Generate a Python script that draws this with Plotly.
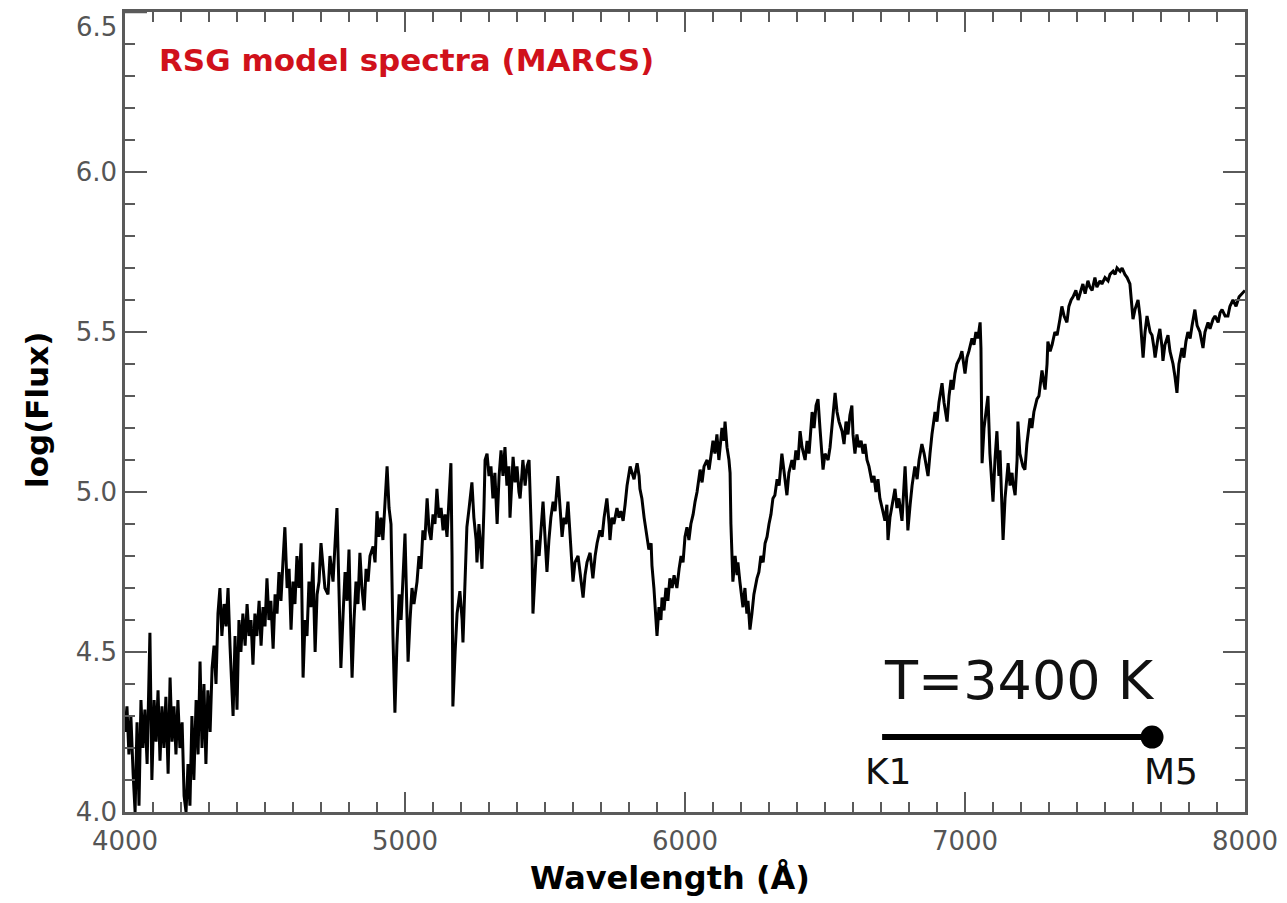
import plotly.graph_objects as go

# ---- spectrum (wavelength in Angstrom, log flux) ----
wavelength = [
4000,4007,4014,4021,4029,4036,4043,4050,4057,4064,4071,4079,4089,4096,4104,4111,4118,4125,4132,4139,
4146,4154,4161,4168,4175,4182,4189,4196,4204,4211,4218,4225,4232,4239,4246,4254,4261,4268,4275,4282,
4289,4296,4304,4311,4318,4325,4332,4339,4346,4354,4361,4368,4375,4386,4393,4400,4407,4414,4421,4429,
4436,4443,4450,4457,4464,4471,4479,4486,4493,4500,4507,4514,4521,4529,4536,4543,4550,4557,4564,4571,
4579,4586,4593,4600,4607,4614,4621,4629,4636,4643,4650,4657,4664,4671,4679,4686,4693,4700,4707,4714,
4725,4732,4743,4750,4757,4764,4771,4779,4786,4793,4800,4807,4811,4818,4825,4832,4839,4846,4854,4861,
4868,4875,4886,4893,4900,4907,4914,4921,4929,4936,4943,4950,4957,4964,4971,4979,4986,4993,5000,5007,
5011,5018,5025,5032,5043,5050,5057,5064,5071,5079,5086,5093,5100,5107,5114,5121,5129,5136,5143,5150,
5157,5164,5168,5171,5179,5186,5196,5204,5207,5214,5221,5229,5236,5239,5246,5254,5257,5264,5271,5275,
5282,5286,5293,5300,5307,5314,5321,5329,5336,5343,5350,5357,5364,5371,5375,5382,5386,5393,5400,5407,
5411,5418,5421,5429,5436,5443,5446,5454,5457,5464,5471,5479,5486,5493,5500,5507,5514,5521,5529,5536,
5546,5554,5561,5568,5575,5582,5589,5600,5607,5618,5625,5636,5643,5650,5661,5668,5671,5679,5686,5696,
5704,5711,5721,5729,5732,5739,5746,5757,5764,5771,5779,5786,5793,5804,5811,5818,5829,5836,5839,5846,
5854,5864,5871,5879,5882,5889,5896,5900,5907,5914,5918,5925,5932,5939,5946,5954,5961,5971,5979,5986,
5993,6000,6007,6014,6021,6029,6036,6043,6054,6061,6068,6079,6086,6093,6100,6107,6114,6121,6125,6132,
6139,6143,6150,6157,6161,6164,6171,6179,6186,6189,6196,6204,6207,6214,6221,6225,6232,6239,6246,6257,
6264,6271,6279,6286,6293,6300,6307,6314,6321,6329,6336,6346,6354,6364,6371,6382,6389,6396,6404,6411,
6418,6429,6436,6443,6454,6461,6468,6475,6482,6489,6493,6500,6511,6518,6525,6536,6543,6550,6561,6568,
6575,6582,6589,6596,6600,6607,6614,6621,6629,6636,6643,6650,6657,6668,6675,6682,6689,6696,6704,6714,
6721,6725,6732,6739,6750,6757,6764,6775,6782,6786,6793,6796,6804,6811,6821,6829,6836,6846,6854,6861,
6868,6875,6882,6893,6900,6907,6918,6925,6932,6936,6943,6950,6957,6964,6971,6982,6989,6996,7000,7007,
7014,7025,7032,7039,7046,7054,7057,7061,7068,7075,7082,7089,7096,7100,7107,7114,7121,7125,7132,7136,
7143,7154,7161,7168,7171,7179,7186,7189,7196,7207,7214,7221,7232,7239,7246,7257,7264,7275,7282,7286,
7293,7296,7304,7311,7321,7329,7339,7346,7354,7364,7371,7379,7386,7396,7404,7411,7421,7429,7439,7446,
7454,7464,7471,7482,7489,7500,7511,7518,7529,7536,7543,7554,7561,7571,7579,7589,7596,7600,7607,7618,
7625,7636,7643,7650,7661,7668,7675,7679,7689,7696,7704,7707,7714,7725,7732,7743,7750,7757,7764,7775,
7782,7789,7796,7804,7811,7821,7829,7839,7850,7857,7868,7875,7886,7893,7904,7911,7918,7929,7939,7946,
7957,7968,7979,7989,8000,
]

log_flux = [
4.25,4.33,4.18,4.30,4.12,4.00,4.28,4.02,4.35,4.20,4.32,4.15,4.56,4.10,4.35,4.22,4.38,4.16,4.33,4.20,
4.36,4.12,4.42,4.22,4.33,4.18,4.35,4.20,4.28,4.05,4.00,4.15,4.02,4.30,4.10,4.35,4.18,4.47,4.20,4.40,
4.15,4.38,4.25,4.45,4.52,4.40,4.62,4.70,4.55,4.65,4.58,4.70,4.52,4.30,4.55,4.32,4.60,4.50,4.62,4.52,
4.65,4.55,4.60,4.46,4.62,4.55,4.66,4.52,4.64,4.58,4.73,4.60,4.66,4.51,4.68,4.62,4.75,4.66,4.78,4.89,
4.70,4.76,4.57,4.72,4.65,4.80,4.70,4.84,4.42,4.60,4.55,4.72,4.64,4.78,4.50,4.68,4.72,4.84,4.77,4.70,
4.68,4.80,4.72,4.86,4.95,4.70,4.45,4.62,4.75,4.66,4.82,4.55,4.42,4.60,4.72,4.65,4.81,4.70,4.63,4.76,
4.72,4.80,4.83,4.78,4.94,4.86,4.92,4.85,4.98,5.08,4.95,4.90,4.55,4.31,4.52,4.68,4.60,4.75,4.87,4.62,
4.47,4.60,4.70,4.65,4.72,4.80,4.76,4.88,4.85,4.98,4.88,4.85,4.93,4.90,5.01,4.92,4.95,4.88,4.93,4.86,
4.98,5.09,4.80,4.33,4.50,4.62,4.69,4.60,4.53,4.75,4.89,4.95,5.00,5.03,4.92,4.85,4.78,4.90,4.82,4.76,
4.95,5.10,5.12,5.05,5.08,4.98,5.06,4.90,5.05,5.13,5.05,5.14,5.02,5.08,4.92,5.05,5.11,5.03,5.08,5.00,
4.98,5.06,5.10,5.02,5.08,5.10,5.02,4.80,4.62,4.75,4.85,4.80,4.89,4.97,4.86,4.75,4.85,4.92,4.97,4.94,
5.05,4.95,4.86,4.92,4.90,4.97,4.88,4.72,4.78,4.80,4.75,4.67,4.74,4.78,4.81,4.76,4.73,4.80,4.84,4.88,
4.86,4.92,4.98,4.90,4.85,4.92,4.90,4.95,4.92,4.94,4.91,4.96,5.02,5.08,5.06,5.04,5.09,5.05,5.01,4.98,
4.92,4.86,4.82,4.84,4.77,4.70,4.62,4.55,4.64,4.60,4.67,4.63,4.70,4.66,4.73,4.70,4.74,4.70,4.76,4.80,
4.78,4.86,4.89,4.85,4.90,4.93,4.97,5.00,5.07,5.03,5.08,5.10,5.07,5.12,5.16,5.12,5.18,5.10,5.14,5.20,
5.16,5.22,5.14,5.10,5.06,4.90,4.72,4.80,4.74,4.78,4.72,4.66,4.64,4.70,4.62,4.66,4.57,4.62,4.68,4.73,
4.75,4.80,4.78,4.84,4.86,4.90,4.93,4.98,4.99,5.04,5.02,5.12,5.06,4.99,5.06,5.10,5.07,5.13,5.10,5.19,
5.14,5.10,5.16,5.12,5.25,5.20,5.27,5.29,5.20,5.12,5.07,5.12,5.10,5.14,5.20,5.31,5.25,5.22,5.19,5.15,
5.22,5.18,5.24,5.27,5.18,5.12,5.18,5.14,5.16,5.12,5.15,5.10,5.08,5.03,5.05,5.00,5.04,4.98,4.95,4.91,
4.96,4.85,4.92,4.96,5.01,4.95,4.98,4.91,5.00,5.08,4.95,4.88,4.96,5.02,5.08,5.04,5.10,5.15,5.12,5.08,
5.05,5.12,5.18,5.25,5.22,5.28,5.34,5.28,5.24,5.22,5.30,5.35,5.32,5.37,5.40,5.42,5.44,5.40,5.37,5.42,
5.44,5.48,5.46,5.50,5.48,5.53,5.45,5.09,5.20,5.25,5.30,5.12,5.02,4.97,5.10,5.19,5.05,5.13,4.95,4.85,
4.98,5.09,5.02,5.06,5.03,4.99,5.10,5.22,5.12,5.08,5.07,5.15,5.23,5.20,5.25,5.29,5.30,5.38,5.34,5.32,
5.40,5.47,5.44,5.46,5.50,5.49,5.54,5.58,5.55,5.53,5.58,5.60,5.61,5.63,5.60,5.62,5.65,5.62,5.66,5.64,
5.63,5.67,5.64,5.66,5.65,5.67,5.66,5.68,5.69,5.68,5.70,5.69,5.70,5.68,5.67,5.65,5.58,5.54,5.57,5.60,
5.55,5.42,5.50,5.55,5.50,5.49,5.45,5.42,5.48,5.51,5.45,5.41,5.46,5.49,5.44,5.40,5.36,5.31,5.40,5.45,
5.42,5.47,5.50,5.48,5.52,5.57,5.52,5.50,5.45,5.50,5.53,5.51,5.54,5.55,5.53,5.56,5.57,5.55,5.55,5.58,
5.60,5.58,5.61,5.62,5.63,
]

# y tick labels (the top one is nudged down inside the page as in the original)
y_tick_values = [4.0, 4.5, 5.0, 5.5, 6.0]
y_top_label = "6.5"

# ---- temperature scale indicator ----
temp_label = "T=3400 K"
scale_start_label = "K1"
scale_end_label = "M5"
scale_x = [6704, 7668]      # wavelength span of the K1..M5 bar
scale_y = [4.234, 4.234]
temp_label_pos = (7196, 4.41)
k1_pos = (6725, 4.128)
m5_pos = (7736, 4.128)

title_text = "RSG model spectra (MARCS)"
x_title = "Wavelength (Å)"
y_title = "log(Flux)"

FONT = "DejaVu Sans, Verdana, sans-serif"
AXIS_COLOR = "#5a5a5a"
TICK_FONT = dict(family=FONT, size=26, color="#555555")

fig = go.Figure()
fig.add_trace(go.Scatter(
    x=wavelength, y=log_flux, mode="lines",
    line=dict(color="#000000", width=3), hoverinfo="skip", showlegend=False,
))
fig.add_trace(go.Scatter(
    x=scale_x, y=scale_y, mode="lines",
    line=dict(color="#000000", width=6), showlegend=False, hoverinfo="skip",
))
fig.add_trace(go.Scatter(
    x=[scale_x[1]], y=[scale_y[1]], mode="markers",
    marker=dict(color="#000000", size=23), showlegend=False, hoverinfo="skip",
))

axis_common = dict(
    showline=True, linecolor=AXIS_COLOR, linewidth=2.5, mirror="ticks",
    ticks="inside", tickcolor=AXIS_COLOR, tickwidth=2.2,
    showgrid=False, zeroline=False, automargin=False,
    ticklabeloverflow="allow",
    tickfont=TICK_FONT,
)

fig.update_xaxes(
    range=[4000, 8000], dtick=1000, tick0=4000, ticklen=20,
    minor=dict(ticks="inside", dtick=100, ticklen=10, tickcolor=AXIS_COLOR,
               tickwidth=2, showgrid=False),
    ticklabelstandoff=4,
    **axis_common,
)
fig.update_yaxes(
    range=[4.0, 6.5], tickmode="array", tickvals=y_tick_values,
    ticklen=22, tickformat=".1f",
    minor=dict(ticks="inside", dtick=0.1, tick0=4.0, ticklen=10,
               tickcolor=AXIS_COLOR, tickwidth=2, showgrid=False),
    ticklabelstandoff=0,
    **axis_common,
)

annotations = [
    dict(text=y_top_label, xref="paper", yref="paper", x=0, y=1,
         xanchor="right", yanchor="top", xshift=-6, yshift=2, showarrow=False,
         font=TICK_FONT),
    dict(text=title_text, xref="paper", yref="paper", x=0.0286, y=0.94,
         xanchor="left", yanchor="middle", showarrow=False,
         font=dict(family=FONT, size=31, color="#d0111b", weight="bold")),
    dict(text=x_title, xref="paper", yref="paper", x=0.4866, y=-0.0825,
         xanchor="center", yanchor="middle", showarrow=False,
         font=dict(family=FONT, size=32, color="#000000", weight="bold")),
    dict(text=y_title, xref="paper", yref="paper", x=-0.0786, y=0.5025,
         xanchor="center", yanchor="middle", showarrow=False, textangle=-90,
         font=dict(family=FONT, size=31, color="#000000", weight="bold")),
    dict(text=temp_label, x=temp_label_pos[0], y=temp_label_pos[1],
         xanchor="center", yanchor="middle", showarrow=False,
         font=dict(family=FONT, size=54, color="#111111")),
    dict(text=scale_start_label, x=k1_pos[0], y=k1_pos[1],
         xanchor="center", yanchor="middle", showarrow=False,
         font=dict(family=FONT, size=36, color="#111111")),
    dict(text=scale_end_label, x=m5_pos[0], y=m5_pos[1],
         xanchor="center", yanchor="middle", showarrow=False,
         font=dict(family=FONT, size=36, color="#111111")),
]

# a major-length tick at the top-left corner (value 6.5)
shapes = [
    dict(type="line", xref="paper", yref="y", x0=0, x1=22 / 1120, y0=6.5, y1=6.5,
         line=dict(color=AXIS_COLOR, width=2.5)),
]

fig.update_layout(
    width=1287, height=903,
    margin=dict(l=125, r=42, t=12, b=91, pad=0),
    paper_bgcolor="white", plot_bgcolor="white",
    annotations=annotations, shapes=shapes, showlegend=False,
)

fig.write_html("out.html")
